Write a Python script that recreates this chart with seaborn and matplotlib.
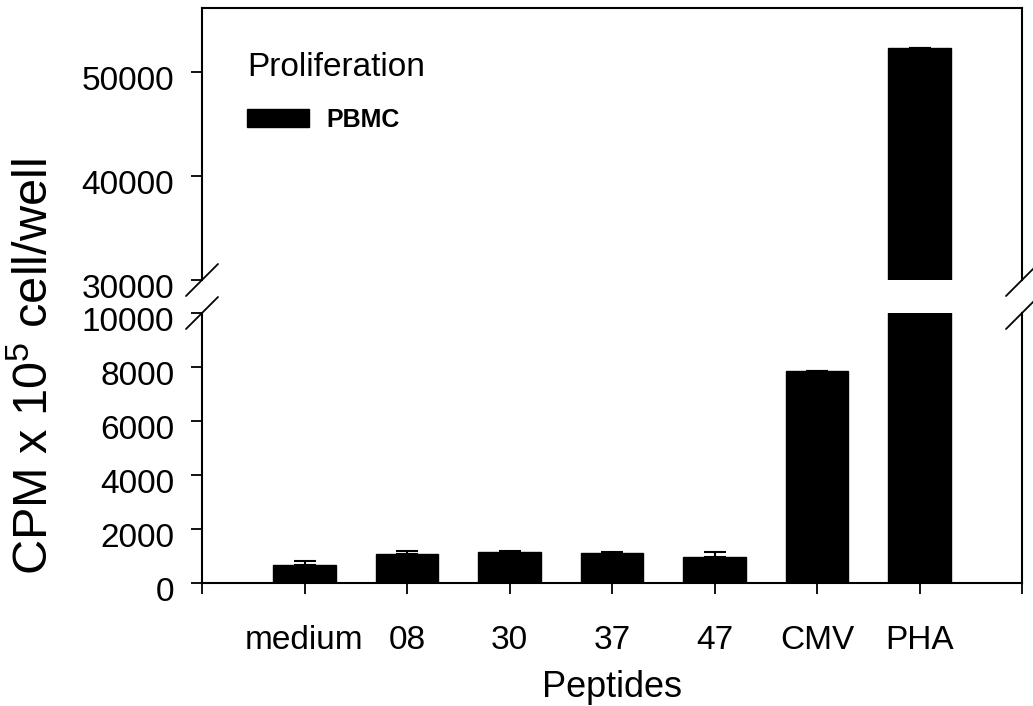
import numpy as np
import pandas as pd
import seaborn as sns
from matplotlib import pyplot as plt
from matplotlib.patches import Patch
from matplotlib.transforms import ScaledTranslation

# values
peptides = ["medium", "08", "30", "37", "47", "CMV", "PHA"]
cpm = [670, 1080, 1160, 1100, 950, 7850, 52300]
err = [150, 90, 30, 40, 190, 0, 0]

sns.set_style("white")
plt.rcParams['font.family'] = ['Liberation Sans', 'DejaVu Sans']
plt.rcParams.update({"text.color": "black", "axes.labelcolor": "black",
                     "xtick.color": "black", "ytick.color": "black"})

df = pd.DataFrame({"Peptides": peptides, "CPM": cpm})

fig = plt.figure(figsize=(10.33, 7.06), dpi=100)
ax_top = fig.add_axes([202/1033, 1 - 280/706, 820/1033, 272/706])
ax_low = fig.add_axes([202/1033, 1 - 583/706, 820/1033, 270/706])

for ax in (ax_top, ax_low):
    sns.barplot(data=df, x="Peptides", y="CPM", color="black",
                edgecolor="black", width=0.61, ax=ax)
    ax.errorbar(np.arange(len(peptides)), cpm, yerr=[np.zeros(len(err)), err],
                fmt="none", ecolor="black", elinewidth=1.5, capsize=8,
                capthick=1.5)
    ax.set_xlim(-1, len(peptides))
    ax.set_ylabel("")
    for s in ax.spines.values():
        s.set_color("black")
        s.set_linewidth(1.5)
    ax.tick_params(axis="y", direction="out", length=8, width=1.3,
                   labelsize=24, pad=12, left=True)

ax_top.set_ylim(30000, 56150)
ax_top.set_yticks([30000, 40000, 50000])
ax_top.spines["bottom"].set_visible(False)
ax_top.set_xticks([])
ax_top.set_xlabel("")

ax_low.set_ylim(0, 10000)
ax_low.set_yticks([0, 2000, 4000, 6000, 8000, 10000])
ax_low.spines["top"].set_visible(False)
ax_low.set_xticks(np.arange(-1, len(peptides) + 1))
ax_low.set_xticklabels([""] + peptides + [""])
ax_low.tick_params(axis="x", direction="out", length=8, width=1.3,
                   labelsize=24, pad=22, bottom=True)
ax_low.set_xlabel("Peptides", fontsize=26, labelpad=10)

# y tick labels sit a little below their ticks in the original
shift = ScaledTranslation(0, -6/100, fig.dpi_scale_trans)
for ax in (ax_top, ax_low):
    for lbl in ax.get_yticklabels():
        lbl.set_transform(lbl.get_transform() + shift)

# break marks
dx = 16 / 820
for ax, y0, dy in ((ax_top, 0, 16 / 272), (ax_low, 1, 16 / 270)):
    for x0 in (0, 1):
        ax.plot([x0 - dx, x0 + dx], [y0 - dy, y0 + dy], color="black",
                lw=1.3, transform=ax.transAxes, clip_on=False)

fig.text(35/1033, 1 - 367/706, r"CPM x 10$\mathregular{^5}$ cell/well",
         rotation=90, fontsize=35, ha="center", va="center")

leg = ax_top.legend(handles=[Patch(facecolor="black", edgecolor="black", label="PBMC")],
                    title="Proliferation", loc="upper left",
                    bbox_to_anchor=(0.0394, 0.885), frameon=False, borderpad=0,
                    handlelength=2.5, handleheight=0.68, handletextpad=0.7,
                    labelspacing=1.0,
                    prop={"weight": "bold", "size": 18}, title_fontsize=24,
                    alignment="left")

fig.savefig("out.png", dpi=100)
